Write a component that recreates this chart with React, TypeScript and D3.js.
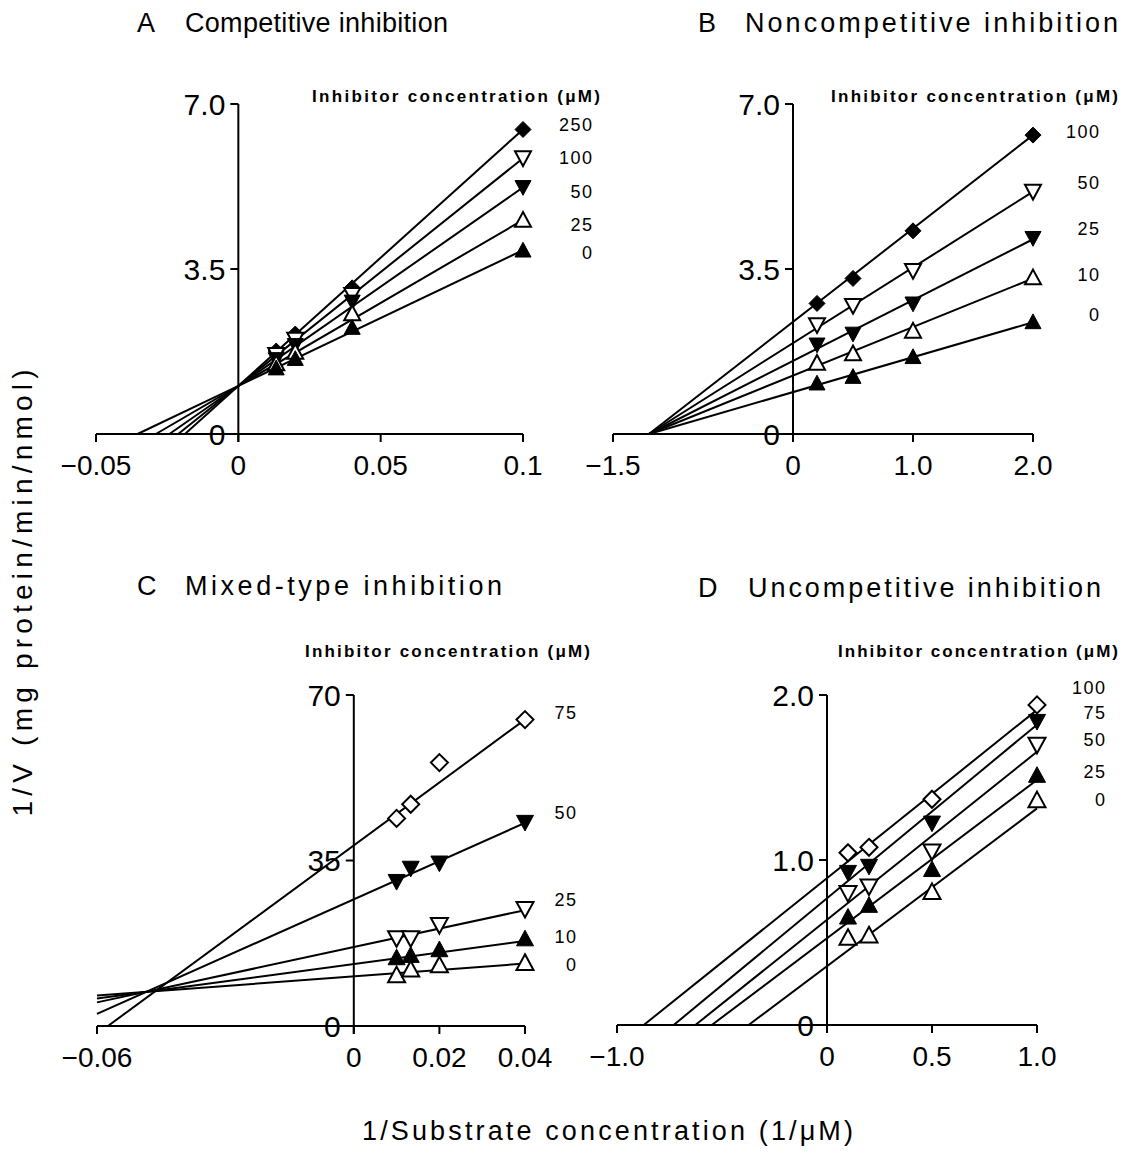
import React from "react";
import * as d3 from "d3";

// ---------- Data ----------
// Panel A: Competitive inhibition
const aX = [0.0133, 0.02, 0.04, 0.1];
const aLevels = ["250", "100", "50", "25", "0"];
const aY250 = [1.76, 2.12, 3.1, 6.46];
const aY100 = [1.68, 2.0, 2.95, 5.85];
const aY50 = [1.58, 1.88, 2.8, 5.23];
const aY25 = [1.5, 1.74, 2.56, 4.54];
const aY0 = [1.4, 1.6, 2.26, 3.9];
const aLineIntercepts = [1.02, 1.02, 1.02, 1.02, 1.02];
const aLineSlopes = [54.4, 48.3, 42.1, 35.2, 28.8];
const aXTicks = [-0.05, 0, 0.05, 0.1];
const aXTickLabels = ["−0.05", "0", "0.05", "0.1"];
const aYTicks = [0, 3.5, 7];
const aYTickLabels = ["0", "3.5", "7.0"];

// Panel B: Noncompetitive inhibition
const bX = [0.2, 0.5, 1.0, 2.0];
const bLevels = ["100", "50", "25", "10", "0"];
const bY100 = [2.77, 3.3, 4.31, 6.34];
const bY50 = [2.31, 2.72, 3.46, 5.14];
const bY25 = [1.89, 2.12, 2.76, 4.15];
const bY10 = [1.51, 1.71, 2.19, 3.32];
const bY0 = [1.08, 1.22, 1.64, 2.38];
const bLineIntercepts = [2.378, 1.928, 1.549, 1.238, 0.889];
const bLineSlopes = [1.981, 1.606, 1.291, 1.031, 0.741];
const bXTicks = [-1.5, 0, 1.0, 2.0];
const bXTickLabels = ["−1.5", "0", "1.0", "2.0"];
const bYTicks = [0, 3.5, 7];
const bYTickLabels = ["0", "3.5", "7.0"];

// Panel C: Mixed-type inhibition
const cX = [0.01, 0.0133, 0.02, 0.04];
const cLevels = ["75", "50", "25", "10", "0"];
const cY75 = [43.9, 46.9, 55.7, 64.8];
const cY50 = [30.5, 33.3, 34.4, 43.0];
const cY25 = [18.5, 18.5, 21.3, 24.7];
const cY10 = [14.5, 15.0, 16.2, 18.5];
const cY0 = [10.8, 12.0, 12.9, 13.4];
const cLineIntercepts = [38.2, 26.8, 16.7, 13.1, 10.5];
const cLineSlopes = [665, 404, 195, 121.6, 67.9];
const cXTicks = [-0.06, 0, 0.02, 0.04];
const cXTickLabels = ["−0.06", "0", "0.02", "0.04"];
const cYTicks = [0, 35, 70];
const cYTickLabels = ["0", "35", "70"];

// Panel D: Uncompetitive inhibition
const dX = [0.1, 0.2, 0.5, 1.0];
const dLevels = ["100", "75", "50", "25", "0"];
const dY100 = [1.044, 1.077, 1.368, 1.94];
const dY75 = [0.923, 0.96, 1.222, 1.838];
const dY50 = [0.798, 0.838, 1.05, 1.697];
const dY25 = [0.656, 0.727, 0.944, 1.515];
const dY0 = [0.53, 0.545, 0.808, 1.364];
const dLineIntercepts = [0.89, 0.768, 0.638, 0.526, 0.357];
const dLineSlopes = [1.02, 1.052, 1.018, 0.959, 0.956];
const dXTicks = [-1.0, 0, 0.5, 1.0];
const dXTickLabels = ["−1.0", "0", "0.5", "1.0"];
const dYTicks = [0, 1, 2];
const dYTickLabels = ["0", "1.0", "2.0"];

const FONT = "'Liberation Sans', Arial, Helvetica, sans-serif";

type MarkerKind = "filledDiamond" | "openDiamond" | "filledUp" | "openUp" | "filledDown" | "openDown";

function markerPath(kind: MarkerKind, s: number): string {
  const h = s / 2;
  if (kind === "filledDiamond" || kind === "openDiamond") {
    return `M0,${-h}L${h},0L0,${h}L${-h},0Z`;
  }
  const th = s * 0.86;
  if (kind === "filledUp" || kind === "openUp") {
    return `M0,${-th / 2 - 1}L${h},${th / 2}L${-h},${th / 2}Z`;
  }
  return `M0,${th / 2 + 1}L${h},${-th / 2}L${-h},${-th / 2}Z`;
}

interface PanelSpec {
  letter: string;
  letterX: number;
  title: string;
  titleX: number;
  titleEnd: number;
  titleBaseline: number;
  xDomain: [number, number];
  xRange: [number, number];
  yDomain: [number, number];
  yRange: [number, number];
  xTicks: number[];
  xTickLabels: string[];
  yTicks: number[];
  yTickLabels: string[];
  xs: number[];
  series: number[][];
  kinds: MarkerKind[];
  intercepts: number[];
  slopes: number[];
  levels: string[];
  levelRight: number;
  levelYs: number[];
  inhX: number;
  inhEnd: number;
  inhBaseline: number;
  markerSize: number;
}

const panels: PanelSpec[] = [
  {
    letter: "A",
    letterX: 137,
    title: "Competitive inhibition",
    titleX: 185,
    titleEnd: 448,
    titleBaseline: 32,
    xDomain: [-0.05, 0.1],
    xRange: [96, 523],
    yDomain: [0, 7],
    yRange: [434, 104],
    xTicks: aXTicks,
    xTickLabels: aXTickLabels,
    yTicks: aYTicks,
    yTickLabels: aYTickLabels,
    xs: aX,
    series: [aY250, aY100, aY50, aY25, aY0],
    kinds: ["filledDiamond", "openDown", "filledDown", "openUp", "filledUp"],
    intercepts: aLineIntercepts,
    slopes: aLineSlopes,
    levels: aLevels,
    levelRight: 592,
    levelYs: [125, 158, 191.5, 224.5, 252.5],
    inhX: 312,
    inhEnd: 600,
    inhBaseline: 102,
    markerSize: 16,
  },
  {
    letter: "B",
    letterX: 698,
    title: "Noncompetitive inhibition",
    titleX: 745,
    titleEnd: 1118,
    titleBaseline: 32,
    xDomain: [-1.5, 2.0],
    xRange: [613, 1033],
    yDomain: [0, 7],
    yRange: [434, 104],
    xTicks: bXTicks,
    xTickLabels: bXTickLabels,
    yTicks: bYTicks,
    yTickLabels: bYTickLabels,
    xs: bX,
    series: [bY100, bY50, bY25, bY10, bY0],
    kinds: ["filledDiamond", "openDown", "filledDown", "openUp", "filledUp"],
    intercepts: bLineIntercepts,
    slopes: bLineSlopes,
    levels: bLevels,
    levelRight: 1099,
    levelYs: [131.5, 183, 229, 274.5, 315],
    inhX: 831,
    inhEnd: 1118,
    inhBaseline: 102,
    markerSize: 16,
  },
  {
    letter: "C",
    letterX: 137,
    title: "Mixed-type inhibition",
    titleX: 185,
    titleEnd: 502,
    titleBaseline: 595,
    xDomain: [-0.06, 0.04],
    xRange: [97, 525],
    yDomain: [0, 70],
    yRange: [1026, 695],
    xTicks: cXTicks,
    xTickLabels: cXTickLabels,
    yTicks: cYTicks,
    yTickLabels: cYTickLabels,
    xs: cX,
    series: [cY75, cY50, cY25, cY10, cY0],
    kinds: ["openDiamond", "filledDown", "openDown", "filledUp", "openUp"],
    intercepts: cLineIntercepts,
    slopes: cLineSlopes,
    levels: cLevels,
    levelRight: 576,
    levelYs: [713, 812.5, 899.5, 937, 965],
    inhX: 305,
    inhEnd: 590,
    inhBaseline: 657,
    markerSize: 17,
  },
  {
    letter: "D",
    letterX: 698,
    title: "Uncompetitive inhibition",
    titleX: 748,
    titleEnd: 1101,
    titleBaseline: 597,
    xDomain: [-1.0, 1.0],
    xRange: [617, 1037],
    yDomain: [0, 2],
    yRange: [1025, 695],
    xTicks: dXTicks,
    xTickLabels: dXTickLabels,
    yTicks: dYTicks,
    yTickLabels: dYTickLabels,
    xs: dX,
    series: [dY100, dY75, dY50, dY25, dY0],
    kinds: ["openDiamond", "filledDown", "openDown", "filledUp", "openUp"],
    intercepts: dLineIntercepts,
    slopes: dLineSlopes,
    levels: dLevels,
    levelRight: 1105,
    levelYs: [687.5, 712.5, 740, 771.5, 800],
    inhX: 838,
    inhEnd: 1118,
    inhBaseline: 657,
    markerSize: 17,
  },
];

function Panel({ p }: { p: PanelSpec }) {
  const x = d3.scaleLinear().domain(p.xDomain).range(p.xRange);
  const y = d3.scaleLinear().domain(p.yDomain).range(p.yRange);
  const x0 = x(0);
  const y0 = y(0);
  const line = d3
    .line<[number, number]>()
    .x((d) => x(d[0]))
    .y((d) => y(d[1]));

  const fitLines = p.intercepts.map((b, i) => {
    const m = p.slopes[i];
    const xMax = p.xDomain[1];
    let xStart = p.xDomain[0];
    const xZero = -b / m;
    if (xZero > xStart) xStart = xZero;
    const pts: [number, number][] = [
      [xStart, b + m * xStart],
      [xMax, b + m * xMax],
    ];
    return line(pts) as string;
  });

  return (
    <g>
      {/* titles */}
      <text x={p.letterX} y={p.titleBaseline} fontFamily={FONT} fontSize={27} fill="#000">
        {p.letter}
      </text>
      <text
        x={p.titleX}
        y={p.titleBaseline}
        fontFamily={FONT}
        fontSize={27}
        fill="#000"
        textLength={p.titleEnd - p.titleX}
        lengthAdjust="spacing"
      >
        {p.title}
      </text>
      <text
        x={p.inhX}
        y={p.inhBaseline}
        fontFamily={FONT}
        fontSize={17}
        fontWeight={600}
        fill="#000"
        textLength={p.inhEnd - p.inhX}
        lengthAdjust="spacing"
      >
        Inhibitor concentration (μM)
      </text>
      {p.levels.map((lv, i) => (
        <text
          key={"lv" + i}
          x={p.levelRight + 1.5}
          y={p.levelYs[i]}
          dy="0.36em"
          textAnchor="end"
          fontFamily={FONT}
          fontSize={18}
          letterSpacing={1.5}
          fill="#000"
        >
          {lv}
        </text>
      ))}
      {/* axes */}
      <line x1={p.xRange[0]} x2={p.xRange[1]} y1={y0} y2={y0} stroke="#000" strokeWidth={2} />
      <line x1={x0} x2={x0} y1={p.yRange[1]} y2={y0 + 8} stroke="#000" strokeWidth={2} />
      {p.xTicks.map((t, i) => (
        <g key={"xt" + i}>
          <line x1={x(t)} x2={x(t)} y1={y0} y2={y0 + 8} stroke="#000" strokeWidth={2} />
          <text
            x={x(t)}
            y={y0 + 41}
            textAnchor="middle"
            fontFamily={FONT}
            fontSize={28}
            fill="#000"
          >
            {p.xTickLabels[i]}
          </text>
        </g>
      ))}
      {p.yTicks.map((t, i) => (
        <g key={"yt" + i}>
          {t !== 0 && (
            <line x1={x0 - 8} x2={x0} y1={y(t)} y2={y(t)} stroke="#000" strokeWidth={2} />
          )}
          <text
            x={x0 - 13}
            y={y(t)}
            dy="0.36em"
            textAnchor="end"
            fontFamily={FONT}
            fontSize={30}
            fill="#000"
          >
            {p.yTickLabels[i]}
          </text>
        </g>
      ))}
      {/* fitted lines */}
      {fitLines.map((d, i) => (
        <path key={"l" + i} d={d} fill="none" stroke="#000" strokeWidth={2} />
      ))}
      {/* markers */}
      {p.series.map((ys, si) =>
        ys.map((v, j) => {
          const kind = p.kinds[si];
          const open = kind.startsWith("open");
          return (
            <path
              key={"m" + si + "-" + j}
              d={markerPath(kind, p.markerSize)}
              transform={`translate(${x(p.xs[j])},${y(v)})`}
              fill={open ? "#fff" : "#000"}
              stroke="#000"
              strokeWidth={open ? 2 : 1}
              strokeLinejoin="miter"
            />
          );
        })
      )}
    </g>
  );
}

export default function App() {
  return (
    <svg
      width={1141}
      height={1172}
      viewBox="0 0 1141 1172"
      style={{ position: "absolute", left: 0, top: 0, background: "#fff" }}
    >
      <rect x={0} y={0} width={1141} height={1172} fill="#fff" />
      {panels.map((p) => (
        <Panel key={p.letter} p={p} />
      ))}
      <text
        transform="translate(32,593) rotate(-90)"
        textAnchor="middle"
        fontFamily={FONT}
        fontSize={28}
        fill="#000"
        textLength={447}
        lengthAdjust="spacing"
      >
        1/V (mg protein/min/nmol)
      </text>
      <text
        x={362}
        y={1140}
        fontFamily={FONT}
        fontSize={27}
        fill="#000"
        textLength={491}
        lengthAdjust="spacing"
      >
        1/Substrate concentration (1/μM)
      </text>
    </svg>
  );
}
